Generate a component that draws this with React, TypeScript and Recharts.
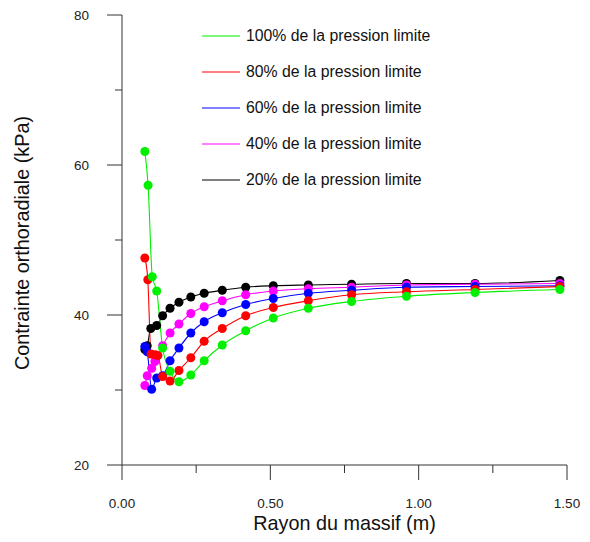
import { LineChart, Line, XAxis, YAxis } from "recharts";

// Rayon du massif (m) / contrainte orthoradiale (kPa)
const GREEN_X = [0.077, 0.088, 0.102, 0.117, 0.137, 0.162, 0.192, 0.232, 0.277, 0.338, 0.417, 0.51, 0.628, 0.774, 0.959, 1.19, 1.476];
const GREEN_Y = [61.8, 57.3, 45.1, 43.2, 35.6, 32.5, 31.1, 32.0, 33.9, 36.0, 37.9, 39.6, 40.9, 41.8, 42.5, 43.0, 43.4];

const RED_X = [0.077, 0.087, 0.098, 0.112, 0.121, 0.137, 0.162, 0.192, 0.232, 0.277, 0.338, 0.417, 0.51, 0.628, 0.774, 0.959, 1.19, 1.476];
const RED_Y = [47.6, 44.7, 34.8, 34.7, 34.6, 31.8, 31.2, 32.6, 34.3, 36.5, 38.2, 39.9, 41.0, 41.9, 42.7, 43.1, 43.4, 43.8];

const BLUE_X = [0.077, 0.085, 0.1, 0.117, 0.137, 0.162, 0.192, 0.232, 0.277, 0.338, 0.417, 0.51, 0.628, 0.774, 0.959, 1.19, 1.476];
const BLUE_Y = [35.8, 35.1, 30.1, 31.6, 31.9, 33.9, 35.6, 37.6, 39.1, 40.3, 41.4, 42.2, 42.9, 43.3, 43.7, 43.8, 43.9];

const MAGENTA_X = [0.077, 0.085, 0.1, 0.111, 0.137, 0.162, 0.192, 0.232, 0.277, 0.338, 0.417, 0.51, 0.628, 0.774, 0.959, 1.19, 1.476];
const MAGENTA_Y = [30.6, 31.9, 32.9, 33.8, 35.9, 37.6, 38.8, 40.2, 41.1, 41.9, 42.7, 43.2, 43.5, 43.7, 44.0, 44.1, 44.2];

const BLACK_X = [0.077, 0.085, 0.097, 0.117, 0.137, 0.162, 0.192, 0.232, 0.277, 0.338, 0.417, 0.51, 0.628, 0.774, 0.959, 1.19, 1.476];
const BLACK_Y = [35.4, 35.9, 38.2, 38.6, 39.9, 40.9, 41.7, 42.4, 42.9, 43.3, 43.7, 43.9, 44.0, 44.1, 44.2, 44.2, 44.6];

const X_TICKS = [0, 0.25, 0.5, 0.75, 1, 1.25, 1.5];
const X_LABELED = [0, 0.5, 1, 1.5];
const Y_TICKS = [20, 30, 40, 50, 60, 70, 80];
const Y_LABELED = [20, 40, 60, 80];

const FONT = "'Liberation Sans', Arial, sans-serif";
const AXIS = "#333";

const zip = (xs: number[], ys: number[]) => xs.map((x, i) => ({ x, y: ys[i] }));

// legend order (top to bottom)
const SERIES = [
  { name: "100% de la pression limite", color: "#00f000", data: zip(GREEN_X, GREEN_Y) },
  { name: "80% de la pression limite", color: "#ff0000", data: zip(RED_X, RED_Y) },
  { name: "60% de la pression limite", color: "#0000ff", data: zip(BLUE_X, BLUE_Y) },
  { name: "40% de la pression limite", color: "#ff00ff", data: zip(MAGENTA_X, MAGENTA_Y) },
  { name: "20% de la pression limite", color: "#000000", data: zip(BLACK_X, BLACK_Y) },
];

function XTick({ x, y, payload }: any) {
  const major = X_LABELED.includes(payload.value);
  return (
    <g>
      <line x1={x} y1={y} x2={x} y2={y + (major ? 15 : 8)} stroke={AXIS} />
      {major && (
        <text x={x} y={y + 43} textAnchor="middle" fontSize={13.5} fontFamily={FONT} fill="#222">
          {payload.value.toFixed(2)}
        </text>
      )}
    </g>
  );
}

function YTick({ x, y, payload }: any) {
  const major = Y_LABELED.includes(payload.value);
  return (
    <g>
      <line x1={x - (major ? 15 : 7)} y1={y} x2={x} y2={y} stroke={AXIS} />
      {major && (
        <text x={x - 33} y={y + 4.5} textAnchor="end" fontSize={13.5} fontFamily={FONT} fill="#222">
          {payload.value}
        </text>
      )}
    </g>
  );
}

function LegendBox() {
  return (
    <div
      style={{
        position: "absolute",
        left: 202,
        top: 18,
        width: 280,
        fontFamily: FONT,
        fontSize: 15.8,
        color: "#111",
      }}
    >
      {SERIES.map((s) => (
        <div key={s.name} style={{ display: "flex", alignItems: "center", height: 36 }}>
          <svg width={44} height={4} style={{ display: "block" }}>
            <line x1={0} y1={2} x2={38} y2={2} stroke={s.color} strokeWidth={1.2} />
          </svg>
          <span>{s.name}</span>
        </div>
      ))}
    </div>
  );
}

export default function App() {
  return (
    <div style={{ position: "absolute", left: 0, top: 0, width: 590, height: 542, background: "#fff" }}>
      <LineChart width={590} height={542} margin={{ top: 15, right: 23, left: 62, bottom: 27 }}>
        <XAxis
          type="number"
          dataKey="x"
          domain={[0, 1.5]}
          ticks={X_TICKS}
          interval={0}
          height={50}
          stroke={AXIS}
          tickLine={false}
          tickSize={0}
          tickMargin={0}
          tick={<XTick />}
          allowDuplicatedCategory={false}
          label={{
            content: ({ viewBox }: any) => (
              <text
                x={viewBox.x + viewBox.width / 2}
                y={viewBox.y + 65}
                textAnchor="middle"
                fontSize={19.8}
                fontFamily={FONT}
                fill="#111"
              >
                Rayon du massif (m)
              </text>
            ),
          }}
        />
        <YAxis
          type="number"
          domain={[20, 80]}
          ticks={Y_TICKS}
          interval={0}
          width={60}
          stroke={AXIS}
          tickLine={false}
          tickSize={0}
          tickMargin={0}
          tick={<YTick />}
          label={{
            content: ({ viewBox }: any) => {
              const cx = viewBox.x - 40;
              const cy = viewBox.y + viewBox.height / 2 + 3;
              return (
                <text
                  x={cx}
                  y={cy}
                  transform={`rotate(-90, ${cx}, ${cy})`}
                  textAnchor="middle"
                  dominantBaseline="central"
                  fontSize={19.8}
                  fontFamily={FONT}
                  fill="#111"
                >
                  Contrainte orthoradiale (kPa)
                </text>
              );
            },
          }}
        />
        {[...SERIES].reverse().map((s) => (
          <Line
            key={s.name}
            data={s.data}
            dataKey="y"
            name={s.name}
            type="monotone"
            stroke={s.color}
            strokeWidth={1.1}
            dot={{ r: 4.5, fill: s.color, stroke: s.color, strokeWidth: 0 }}
            activeDot={false}
            isAnimationActive={false}
          />
        ))}
      </LineChart>
      <LegendBox />
    </div>
  );
}
